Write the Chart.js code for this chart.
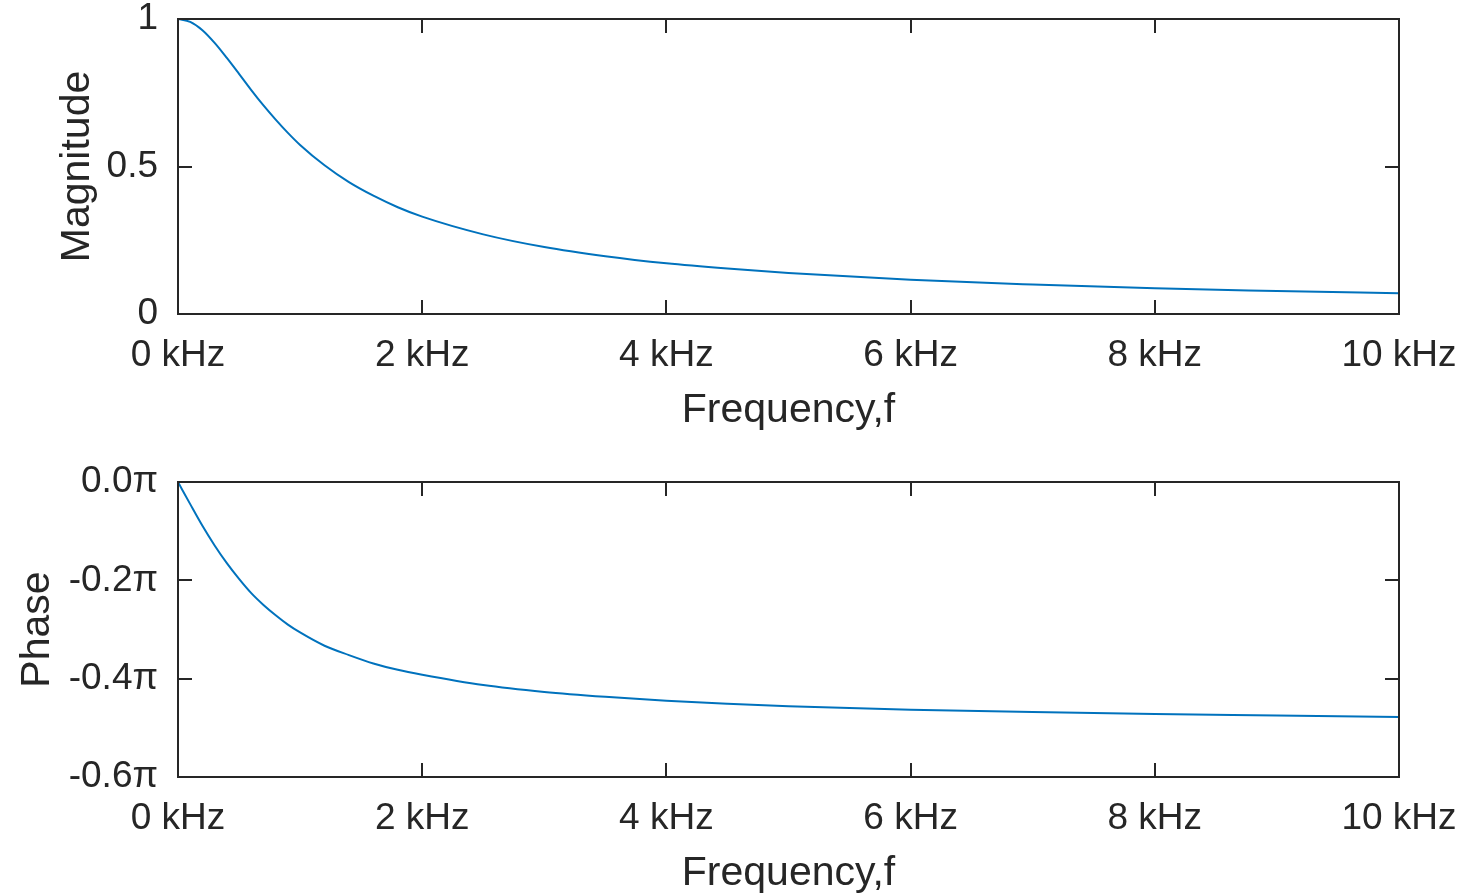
<!DOCTYPE html>
<html>
<head>
<meta charset="utf-8">
<script src="https://cdn.jsdelivr.net/npm/chart.js@4/dist/chart.umd.min.js"></script>
<style>
  html, body { margin: 0; padding: 0; background: #fff; }
  body { width: 1463px; height: 894px; position: relative; overflow: hidden; }
  canvas { position: absolute; left: 0; }
  #mag { top: 0; }
  #phase { top: 447px; }
</style>
</head>
<body>
<canvas id="mag" width="1463" height="447"></canvas>
<canvas id="phase" width="1463" height="447"></canvas>
<script>
// Frequency samples (kHz)
const freqKHz = [0, 0.1, 0.2, 0.3, 0.4, 0.5, 0.6, 0.7, 0.8, 0.9, 1.0, 1.2, 1.4, 1.6, 1.8,
                 2.0, 2.5, 3.0, 3.5, 4.0, 4.5, 5, 6, 7, 8, 9, 10];
// |H(f)|
const magnitude = [1.000, 0.990, 0.962, 0.919, 0.868, 0.814, 0.759, 0.707, 0.659, 0.614, 0.573,
                   0.504, 0.447, 0.401, 0.362, 0.330, 0.270, 0.227, 0.196, 0.172, 0.154, 0.139,
                   0.116, 0.100, 0.087, 0.078, 0.070];
// arg H(f), in units of pi
const phasePi = [0, -0.045, -0.089, -0.129, -0.165, -0.197, -0.226, -0.250, -0.271, -0.290, -0.306,
                 -0.333, -0.352, -0.369, -0.382, -0.392, -0.413, -0.427, -0.437, -0.445, -0.451,
                 -0.456, -0.463, -0.468, -0.472, -0.475, -0.478];
// Tick values
const freqTicks = [0, 2, 4, 6, 8, 10];
const magTicks = [0, 0.5, 1];
const phaseTicks = [-0.6, -0.4, -0.2, 0];

const INK = '#262626';
const LINE = '#0072BD';
const FONT = '"Liberation Sans", Arial, Helvetica, sans-serif';
const tickFont = { family: FONT, size: 37 };
const titleFont = { family: FONT, size: 41, lineHeight: 1 };

// Axes box with inward tick marks on all four sides
const boxPlugin = {
  id: 'box',
  afterDraw(chart) {
    const { ctx, chartArea: a, scales } = chart;
    const tl = 14;
    ctx.save();
    ctx.strokeStyle = INK;
    ctx.lineWidth = 2;
    ctx.beginPath();
    scales.x.ticks.forEach(t => {
      const px = Math.round(scales.x.getPixelForValue(t.value));
      ctx.moveTo(px, a.bottom); ctx.lineTo(px, a.bottom - tl);
      ctx.moveTo(px, a.top); ctx.lineTo(px, a.top + tl);
    });
    scales.y.ticks.forEach(t => {
      const py = Math.round(scales.y.getPixelForValue(t.value));
      ctx.moveTo(a.left, py); ctx.lineTo(a.left + tl, py);
      ctx.moveTo(a.right, py); ctx.lineTo(a.right - tl, py);
    });
    ctx.stroke();
    ctx.strokeRect(a.left, a.top, a.right - a.left, a.bottom - a.top);
    ctx.restore();
  }
};

function makeChart(id, yValues, yTicks, yMin, yMax, yFmt, yTitle, geo) {
  const pts = freqKHz.map((f, i) => ({ x: f, y: yValues[i] }));
  return new Chart(document.getElementById(id), {
    type: 'line',
    data: {
      datasets: [{
        data: pts,
        borderColor: LINE,
        borderWidth: 2,
        pointRadius: 0,
        fill: false,
        cubicInterpolationMode: 'monotone'
      }]
    },
    options: {
      responsive: false,
      animation: false,
      devicePixelRatio: 1,
      events: [],
      layout: { padding: { left: 0, top: geo.top, right: geo.right, bottom: 0 } },
      plugins: { legend: { display: false }, tooltip: { enabled: false } },
      scales: {
        x: {
          type: 'linear',
          min: 0, max: 10,
          afterBuildTicks(s) { s.ticks = freqTicks.map(v => ({ value: v })); },
          afterFit(s) { s.height = geo.xHeight; s.paddingLeft = 0; s.paddingRight = 0; },
          grid: { display: false, drawTicks: false },
          border: { display: false },
          ticks: {
            color: INK, font: tickFont, padding: geo.xTickPad, maxRotation: 0,
            callback: v => v + ' kHz'
          },
          title: {
            display: true, text: 'Frequency,f', color: INK, font: titleFont,
            padding: { top: 0, bottom: geo.xTitlePad }
          }
        },
        y: {
          type: 'linear',
          min: yMin, max: yMax,
          afterBuildTicks(s) { s.ticks = yTicks.map(v => ({ value: v })); },
          afterFit(s) { s.width = geo.left; s.paddingTop = 0; s.paddingBottom = 0; },
          grid: { display: false, drawTicks: false },
          border: { display: false },
          ticks: { color: INK, font: tickFont, padding: 20, callback: yFmt },
          title: {
            display: true, text: yTitle, color: INK, font: titleFont,
            padding: { top: geo.yTitlePad, bottom: 0 }
          }
        }
      }
    },
    plugins: [boxPlugin]
  });
}

makeChart('mag', magnitude, magTicks, 0, 1,
  v => String(v), 'Magnitude',
  { top: 19, right: 64, left: 178, xHeight: 133, xTickPad: 20, xTitlePad: 16, yTitlePad: 57 });

makeChart('phase', phasePi, phaseTicks, -0.6, 0,
  v => (Math.abs(v) < 1e-9 ? 0 : v).toFixed(1) + 'π', 'Phase',
  { top: 35, right: 64, left: 178, xHeight: 117, xTickPad: 20, xTitlePad: 0, yTitlePad: 17 });
</script>
</body>
</html>
